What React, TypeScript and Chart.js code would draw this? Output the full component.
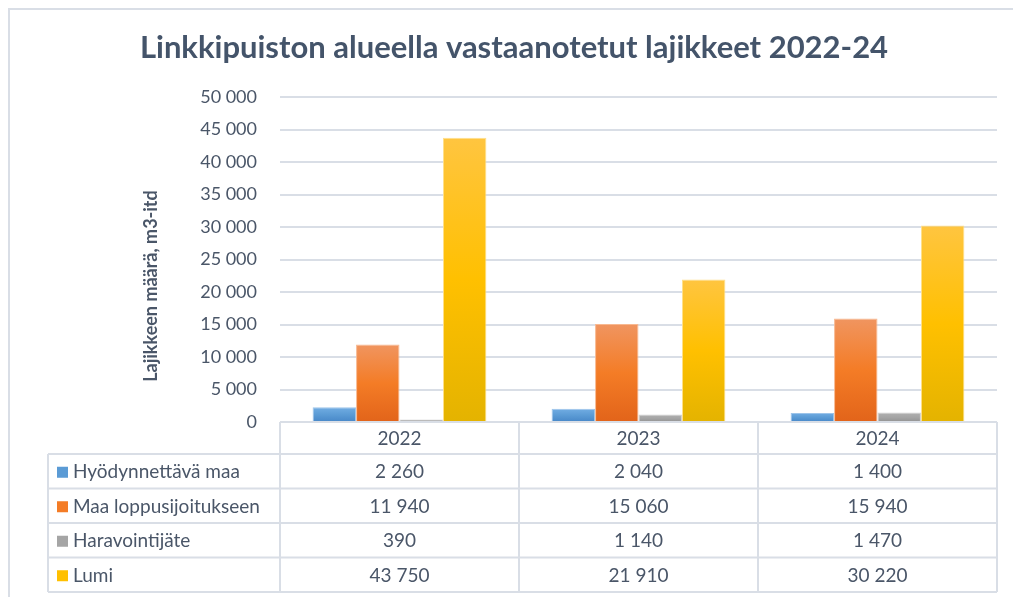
import React, { useEffect, useRef } from "react";
import { Chart, registerables } from "chart.js";

Chart.register(...registerables);

const titleText = "Linkkipuiston alueella vastaanotetut lajikkeet 2022-24";
const yAxisTitle = "Lajikkeen määrä, m3-itd";
const categories = ["2022", "2023", "2024"];
const seriesNames = ["Hyödynnettävä maa", "Maa loppusijoitukseen", "Haravointijäte", "Lumi"];
const hyodynnettavaMaa = [2260, 2040, 1400];
const maaLoppusijoitukseen = [11940, 15060, 15940];
const haravointijate = [390, 1140, 1470];
const lumi = [43750, 21910, 30220];
const yMin = 0;
const yMax = 50000;
const yStep = 5000;

const seriesValues = [hyodynnettavaMaa, maaLoppusijoitukseen, haravointijate, lumi];
const seriesColors = ["#5B9BD5", "#F47C26", "#A5A5A5", "#FFC000"];
const seriesGradients = [
  ["#72ADE3", "#5B9BD5", "#4787C8"],
  ["#F09560", "#F47C26", "#E2641A"],
  ["#B0B0B0", "#A5A5A5", "#929292"],
  ["#FFC540", "#FFC000", "#E4B300"],
];
const seriesBorders = ["#9CC4EA", "#F8B890", "#CFCFCF", "#FFE08A"];

const FONT = "Lato, 'Open Sans', sans-serif";
const TEXT = "#4A5668";
const GRID = "#D9DEE6";

const fmt = (n: number) => String(n).replace(/\B(?=(\d{3})+(?!\d))/g, " ");

const decorPlugin = {
  id: "decor",
  beforeDraw(chart: any) {
    const ctx = chart.ctx;
    ctx.save();
    ctx.fillStyle = "#FFFFFF";
    ctx.fillRect(0, 0, chart.width, chart.height);
    ctx.strokeStyle = GRID;
    ctx.lineWidth = 2;
    ctx.strokeRect(9, 9, chart.width + 20, chart.height + 20);
    ctx.restore();
  },
  afterDraw(chart: any) {
    const ctx = chart.ctx;
    const area = chart.chartArea;
    const xs = chart.scales.x;
    const n = categories.length;
    const catW = (area.right - area.left) / n;
    const top = area.bottom;
    const headerH = 32;
    const rowH = 34.5;
    const tableLeft = 48;
    const bottom = top + headerH + rowH * seriesNames.length;

    ctx.save();
    // title
    ctx.fillStyle = "#44546A";
    ctx.font = `bold 31px ${FONT}`;
    ctx.textAlign = "center";
    ctx.textBaseline = "middle";
    ctx.fillText(titleText, 514, 48);

    // y axis title
    ctx.save();
    ctx.translate(151, 286);
    ctx.rotate(-Math.PI / 2);
    ctx.font = `bold 18px ${FONT}`;
    ctx.fillStyle = TEXT;
    ctx.textAlign = "center";
    ctx.fillText(yAxisTitle, 0, 0);
    ctx.restore();

    // table lines
    ctx.strokeStyle = GRID;
    ctx.lineWidth = 2;
    ctx.beginPath();
    for (let i = 0; i <= n; i++) {
      const x = area.left + i * catW;
      ctx.moveTo(x, top);
      ctx.lineTo(x, bottom);
    }
    ctx.moveTo(tableLeft, top + headerH);
    ctx.lineTo(tableLeft, bottom);
    for (let r = 0; r <= seriesNames.length; r++) {
      const y = top + headerH + r * rowH;
      ctx.moveTo(tableLeft, y);
      ctx.lineTo(area.right, y);
    }
    ctx.moveTo(area.left, top);
    ctx.lineTo(area.right, top);
    ctx.stroke();

    // header
    ctx.font = `19px ${FONT}`;
    ctx.fillStyle = TEXT;
    ctx.textAlign = "center";
    ctx.textBaseline = "middle";
    categories.forEach((c, i) => {
      ctx.fillText(c, xs.getPixelForValue(i), top + headerH / 2 + 1);
    });
    // rows
    seriesNames.forEach((name, r) => {
      const cy = top + headerH + r * rowH + rowH / 2 + 1;
      ctx.fillStyle = seriesColors[r];
      ctx.fillRect(57, cy - 5.5, 11, 11);
      ctx.fillStyle = TEXT;
      ctx.textAlign = "left";
      ctx.fillText(name, 73, cy);
      ctx.textAlign = "center";
      seriesValues[r].forEach((v, i) => {
        ctx.fillText(fmt(v), xs.getPixelForValue(i), cy);
      });
    });
    ctx.restore();
  },
};

export default function App() {
  const ref = useRef<HTMLCanvasElement>(null);
  useEffect(() => {
    if (!ref.current) return;
    const makeGrad = (ds: number) => (c: any) => {
      const chart = c.chart;
      const y = chart.scales && chart.scales.y;
      const v = c.raw;
      if (!y || typeof v !== "number") return seriesColors[ds];
      const t = y.getPixelForValue(v);
      const b = y.getPixelForValue(0);
      if (!isFinite(t) || !isFinite(b) || b - t < 1) return seriesColors[ds];
      const g = chart.ctx.createLinearGradient(0, t, 0, b);
      const s = seriesGradients[ds];
      g.addColorStop(0, s[0]);
      g.addColorStop(0.5, s[1]);
      g.addColorStop(1, s[2]);
      return g;
    };
    const chart = new Chart(ref.current, {
      type: "bar",
      data: {
        labels: categories,
        datasets: seriesNames.map((name, i) => ({
          label: name,
          data: seriesValues[i],
          backgroundColor: makeGrad(i),
          borderColor: seriesBorders[i],
          borderWidth: 1,
          categoryPercentage: 4 / 5.5,
          barPercentage: 1,
        })),
      },
      options: {
        responsive: false,
        animation: false,
        events: [],
        layout: { padding: { left: 0, top: 97, right: 16, bottom: 175 } },
        plugins: { legend: { display: false }, tooltip: { enabled: false }, title: { display: false } },
        scales: {
          x: { display: false, offset: true },
          y: {
            min: yMin,
            max: yMax,
            afterFit: (s: any) => {
              s.width = 280;
            },
            border: { display: false },
            grid: { color: GRID, lineWidth: 2, drawTicks: false },
            ticks: {
              stepSize: yStep,
              padding: 23,
              color: TEXT,
              font: { family: FONT, size: 18 },
              callback: (v: any) => fmt(Number(v)),
            },
          },
        },
      },
      plugins: [decorPlugin],
    });
    return () => chart.destroy();
  }, []);
  return (
    <div style={{ position: "fixed", left: 0, top: 0, width: 1013, height: 597, background: "#fff" }}>
      <canvas ref={ref} width={1013} height={597} style={{ display: "block" }} />
    </div>
  );
}
